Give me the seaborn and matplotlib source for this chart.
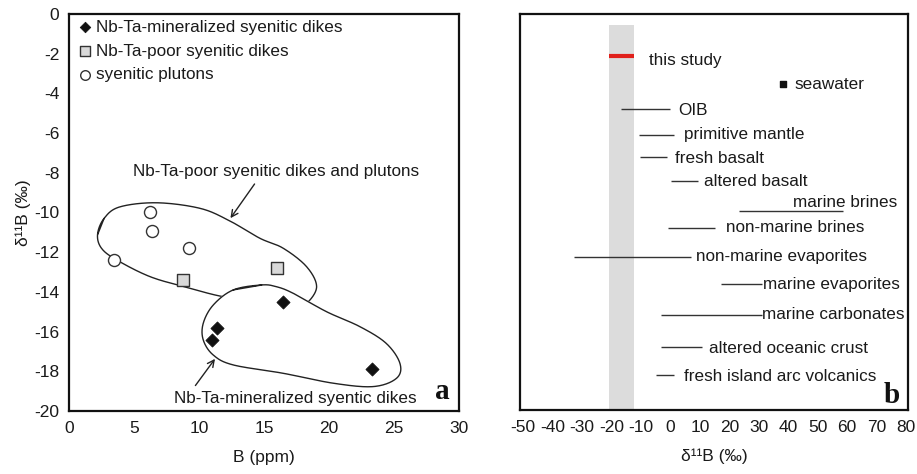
import matplotlib
matplotlib.use("Agg")
import matplotlib.pyplot as plt
import numpy as np
import pandas as pd
import seaborn as sns

sns.set_theme(style="white")
plt.rcParams["font.family"] = ["Liberation Sans", "DejaVu Sans"]
plt.rcParams["axes.unicode_minus"] = False

# ---- panel a data ----
min_x = [16.5, 11.4, 11.0, 23.3]
min_y = [-14.5, -15.8, -16.4, -17.9]
poor_x = [16.0, 8.8]
poor_y = [-12.8, -13.4]
plu_x = [6.2, 6.4, 9.2, 3.5]
plu_y = [-10.0, -10.93, -11.8, -12.4]

# hand-drawn outlines (vertices in data units)
poor_ox = [2.2, 2.7, 3.9, 6.75, 10.08, 12.33, 14.69, 16.48, 18.28, 19.05, 18.28, 17.4, 14.7, 11.85, 9.05, 6.23, 3.67, 2.5]
poor_oy = [-11.1, -10.3, -9.72, -9.51, -9.79, -10.41, -11.3, -11.8, -12.73, -13.74, -14.57, -14.6, -14.46, -14.24, -13.77, -13.23, -12.39, -11.8]
min_ox = [14.82, 12.64, 11.1, 10.33, 10.33, 11.1, 12.64, 16.48, 20.33, 23.4, 25.2, 25.46, 24.4, 22.38, 19.82, 17.25, 15.97]
min_oy = [-13.65, -13.9, -14.66, -15.58, -16.42, -17.18, -17.68, -18.1, -18.6, -18.77, -18.35, -17.6, -16.59, -15.75, -15.0, -14.07, -13.74]

# ---- panel b data ----
res_names = ["OIB", "primitive mantle", "fresh basalt", "altered basalt", "marine brines",
             "non-marine brines", "non-marine evaporites", "marine evaporites",
             "marine carbonates", "altered oceanic crust", "fresh island arc volcanics"]
res_lo = [-16.8, -10.6, -10.3, 0.2, 23.4, -1.0, -32.8, 17.2, -3.1, -3.1, -4.9]
res_hi = [-0.2, 1.3, -1.3, 9.2, 58.5, 15.3, 6.9, 31.0, 31.0, 10.7, 1.3]
res_row = [76.1, 69.4, 63.8, 57.8, 50.3, 46.0, 38.7, 31.7, 24.0, 16.0, 8.8]
res_tx = [2.5, 4.6, 1.5, 11.3, 41.5, 18.8, 8.6, 31.3, 31.0, 13.0, 4.5]
res_ty = [75.6, 69.6, 63.6, 57.6, 52.4, 46.0, 38.7, 31.7, 24.0, 15.6, 8.4]
study_lo, study_hi, study_row = -20.8, -12.3, 89.4
seawater_x, seawater_row = 38.3, 82.3

TXT = "#1a1a1a"
FS = 12.3


def closed_spline(xs, ys, n=30):
    p = np.column_stack([xs, ys])
    m = len(p)
    out = []
    t = np.linspace(0, 1, n, endpoint=False)[:, None]
    for i in range(m):
        p0, p1, p2, p3 = p[i - 1], p[i], p[(i + 1) % m], p[(i + 2) % m]
        seg = 0.5 * ((2 * p1) + (-p0 + p2) * t + (2 * p0 - 5 * p1 + 4 * p2 - p3) * t ** 2
                     + (-p0 + 3 * p1 - 3 * p2 + p3) * t ** 3)
        out.append(seg)
    out = np.vstack(out + [p[1:2]])
    return out[:, 0], out[:, 1]


fig = plt.figure(figsize=(9.17, 4.74), dpi=100)
ax = fig.add_axes([0.0752, 0.1329, 0.4253, 0.8376])
bx = fig.add_axes([0.5671, 0.1350, 0.4231, 0.8354])

# ---- panel a ----
ux, uy = closed_spline(poor_ox, poor_oy)
ax.plot(ux, uy, color="#222", lw=1.0, zorder=1)
lx, ly = closed_spline(min_ox, min_oy)
ax.fill(lx, ly, color="white", zorder=2)
ax.plot(lx, ly, color="#222", lw=1.0, zorder=3)

sns.scatterplot(x=min_x, y=min_y, marker="D", s=45, color="#111", edgecolor="#111",
                label="Nb-Ta-mineralized syenitic dikes", ax=ax, zorder=5)
sns.scatterplot(x=poor_x, y=poor_y, marker="s", s=75, color="#d9d9d9", edgecolor="#333",
                linewidth=1, label="Nb-Ta-poor syenitic dikes", ax=ax, zorder=5)
sns.scatterplot(x=plu_x, y=plu_y, marker="o", s=75, color="white", edgecolor="#333",
                linewidth=1, label="syenitic plutons", ax=ax, zorder=5)

leg = ax.legend(loc="upper left", frameon=False, fontsize=FS, handletextpad=0.05,
                borderaxespad=0.1, labelspacing=0.5, markerscale=0.8, borderpad=0.25,
                handlelength=1.2)
for t in leg.get_texts():
    t.set_color(TXT)

ax.annotate("", xy=(12.3, -10.4), xytext=(14.4, -8.45),
            arrowprops=dict(arrowstyle="->", lw=1, color="#222"))
ax.text(15.9, -7.96, "Nb-Ta-poor syenitic dikes and plutons", ha="center", va="center",
        fontsize=FS, color=TXT)
ax.annotate("", xy=(11.36, -17.26), xytext=(9.6, -18.83),
            arrowprops=dict(arrowstyle="->", lw=1, color="#222"))
ax.text(17.4, -19.36, "Nb-Ta-mineralized syentic dikes", ha="center", va="center",
        fontsize=FS, color=TXT)
ax.text(28.7, -19.0, "a", ha="center", va="center", fontsize=21, fontweight="bold",
        family="Liberation Serif", color="#111")

ax.set_xlim(0, 30)
ax.set_ylim(-20, 0)
ax.set_xticks(range(0, 31, 5))
ax.set_yticks(range(-20, 1, 2))
ax.set_xlabel("B (ppm)", fontsize=12.5, color=TXT, labelpad=10)
ax.set_ylabel("δ¹¹B (‰)", fontsize=12.5, color=TXT, labelpad=2)

# ---- panel b ----
bx.axvspan(study_lo, study_hi, ymin=0, ymax=0.972, color="#dcdcdc", lw=0, zorder=0)
bx.hlines(study_row, study_lo, study_hi, color="#e0201b", lw=3, zorder=3)
bx.text(-7.3, study_row - 1.2, "this study", ha="left", va="center", fontsize=FS, color=TXT)
bx.scatter([seawater_x], [seawater_row], marker="s", s=22, color="#111", zorder=3)
bx.text(42.3, seawater_row, "seawater", ha="left", va="center", fontsize=FS, color=TXT)
bx.hlines(res_row, res_lo, res_hi, color="#333", lw=1.0, zorder=2)
for name, tx, ty in zip(res_names, res_tx, res_ty):
    bx.text(tx, ty, name, ha="left", va="center", fontsize=FS, color=TXT)
bx.text(75.1, 3.6, "b", ha="center", va="center", fontsize=21, fontweight="bold",
        family="Liberation Serif", color="#111")

bx.set_xlim(-51.1, 80.7)
bx.set_ylim(0, 100)
bx.set_xticks(range(-50, 81, 10))
bx.set_yticks([])
bx.set_xlabel("δ¹¹B (‰)", fontsize=12.5, color=TXT, labelpad=10)

for a in (ax, bx):
    for s in a.spines.values():
        s.set_color("#111")
        s.set_linewidth(1.6)
    a.tick_params(direction="in", length=4, width=1, colors="#111", labelsize=12.5,
                  labelcolor=TXT, pad=7)

fig.savefig("out.png", dpi=100)
